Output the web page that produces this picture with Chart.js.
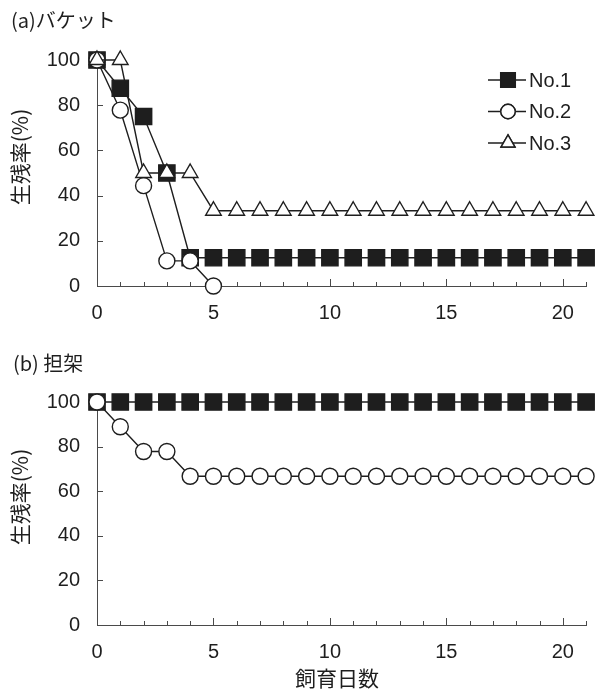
<!DOCTYPE html>
<html>
<head>
<meta charset="utf-8">
<script src="https://cdn.jsdelivr.net/npm/chart.js@4.4.1/dist/chart.umd.min.js"></script>
<style>
  html, body { margin: 0; padding: 0; background: #fff; }
  #wrap { position: relative; width: 599px; height: 689px; }
  canvas { position: absolute; left: 0; }
  #chart-a { top: 0; }
  #chart-b { top: 330px; }
</style>
</head>
<body>
<div id="wrap">
  <canvas id="chart-a" width="599" height="330"></canvas>
  <canvas id="chart-b" width="599" height="359"></canvas>
</div>
<script>
// data
const days = [0, 1, 2, 3, 4, 5, 6, 7, 8, 9, 10, 11, 12, 13, 14, 15, 16, 17, 18, 19, 20, 21];
const yTicks = [0, 20, 40, 60, 80, 100];
const seriesNames = ['No.1', 'No.2', 'No.3'];

// (a) バケット
const bucketNo1 = [100, 87.5, 75, 50, 12.5, 12.5, 12.5, 12.5, 12.5, 12.5, 12.5, 12.5, 12.5, 12.5, 12.5, 12.5, 12.5, 12.5, 12.5, 12.5, 12.5, 12.5];
const bucketNo2 = [100, 77.8, 44.4, 11.1, 11.1, 0];
const bucketNo3 = [100, 100, 50, 50, 50, 33.3, 33.3, 33.3, 33.3, 33.3, 33.3, 33.3, 33.3, 33.3, 33.3, 33.3, 33.3, 33.3, 33.3, 33.3, 33.3, 33.3];

// (b) 担架
const stretcherNo1 = [100, 100, 100, 100, 100, 100, 100, 100, 100, 100, 100, 100, 100, 100, 100, 100, 100, 100, 100, 100, 100, 100];
const stretcherNo2 = [100, 88.9, 77.8, 77.8, 66.7, 66.7, 66.7, 66.7, 66.7, 66.7, 66.7, 66.7, 66.7, 66.7, 66.7, 66.7, 66.7, 66.7, 66.7, 66.7, 66.7, 66.7];

const ink = '#1e1e1e';
const axisColor = '#4a4a4a';
const numFont = 'Arial, "Liberation Sans", sans-serif';
const jpFont = '"Noto Sans CJK JP", "Noto Sans", sans-serif';

// marker looks for each series
const styles = [
  { pointStyle: 'rect', pointRadius: 11.5, pointBackgroundColor: ink, order: 3 },
  { pointStyle: 'circle', pointRadius: 8, pointBackgroundColor: '#fff', order: 2 },
  { pointStyle: 'triangle', pointRadius: 9, pointBackgroundColor: '#fff', order: 1 }
];

function makeDataset(i, values) {
  return Object.assign({
    label: seriesNames[i],
    data: values,
    borderColor: ink,
    borderWidth: 1.4,
    pointBorderColor: ink,
    pointBorderWidth: 1.4,
    pointHoverRadius: 0,
    tension: 0,
    clip: false
  }, styles[i]);
}

// small inward tick marks, like the original figure
const tickMarks = {
  id: 'tickMarks',
  beforeDatasetsDraw(chart) {
    const { ctx, chartArea: a, scales: { x, y } } = chart;
    ctx.save();
    ctx.strokeStyle = axisColor;
    ctx.lineWidth = 1;
    ctx.beginPath();
    days.forEach((d, i) => {
      const px = Math.round(x.getPixelForValue(i)) + 0.5;
      const len = d % 5 === 0 ? 7 : 4;
      ctx.moveTo(px, a.bottom);
      ctx.lineTo(px, a.bottom - len);
    });
    yTicks.forEach(v => {
      const py = Math.round(y.getPixelForValue(v)) + 0.5;
      ctx.moveTo(a.left, py);
      ctx.lineTo(a.left + 6, py);
    });
    ctx.stroke();
    ctx.restore();
  }
};

// panel title and axis titles
const panelText = {
  id: 'panelText',
  afterDraw(chart, args, opts) {
    const ctx = chart.ctx;
    ctx.save();
    ctx.fillStyle = ink;
    ctx.textBaseline = 'middle';
    ctx.textAlign = 'left';
    ctx.font = '20px ' + jpFont;
    ctx.fillText(opts.title, opts.titleX, opts.titleY);

    ctx.save();
    ctx.translate(opts.yTitleX, opts.yTitleY);
    ctx.rotate(-Math.PI / 2);
    ctx.textAlign = 'center';
    ctx.font = '21px ' + jpFont;
    ctx.fillText('生残率(%)', 0, 0);
    ctx.restore();

    if (opts.xTitle) {
      ctx.textAlign = 'center';
      ctx.font = '21px ' + jpFont;
      ctx.fillText(opts.xTitle, opts.xTitleX, opts.xTitleY);
    }
    ctx.restore();
  }
};

// legend drawn inside the plot: line + marker + name
const innerLegend = {
  id: 'innerLegend',
  afterDraw(chart, args, opts) {
    if (!opts.show) return;
    const ctx = chart.ctx;
    ctx.save();
    chart.data.datasets.forEach((ds, i) => {
      const y = opts.top + i * opts.gap;
      ctx.strokeStyle = ink;
      ctx.lineWidth = 1.4;
      ctx.beginPath();
      ctx.moveTo(opts.x1, y);
      ctx.lineTo(opts.x2, y);
      ctx.stroke();
      Chart.helpers.drawPoint(ctx, {
        pointStyle: ds.pointStyle,
        radius: ds.pointRadius * 0.9,
        borderWidth: 1.4,
        rotation: 0
      }, opts.mx, y);
      ctx.fillStyle = ds.pointBackgroundColor;
      ctx.strokeStyle = ink;
      ctx.fill();
      ctx.stroke();
      ctx.fillStyle = ink;
      ctx.font = '20px ' + numFont;
      ctx.textAlign = 'left';
      ctx.textBaseline = 'middle';
      ctx.fillText(ds.label, opts.tx, y + 1);
    });
    ctx.restore();
  }
};

function makeChart(id, datasets, cfg) {
  return new Chart(document.getElementById(id), {
    type: 'line',
    data: { labels: days, datasets: datasets },
    options: {
      responsive: false,
      animation: false,
      events: [],
      layout: { padding: { top: cfg.top, right: 11, bottom: 0, left: 0 } },
      scales: {
        x: {
          type: 'category',
          offset: false,
          grid: { display: false, drawTicks: false },
          border: { display: true, color: axisColor, width: 1 },
          ticks: {
            autoSkip: false,
            maxRotation: 0,
            padding: 15,
            color: ink,
            font: { family: numFont, size: 20 },
            callback: (v, i) => (days[i] % 5 === 0 ? days[i] : null)
          },
          afterFit: s => { s.height = cfg.xHeight; }
        },
        y: {
          min: 0,
          max: 100,
          grid: { display: false, drawTicks: false },
          border: { display: true, color: axisColor, width: 1 },
          ticks: {
            stepSize: 20,
            padding: 17,
            color: ink,
            font: { family: numFont, size: 20 }
          },
          afterFit: s => { s.width = 97; }
        }
      },
      plugins: {
        legend: { display: false },
        tooltip: { enabled: false },
        panelText: cfg.text,
        innerLegend: cfg.legend
      }
    },
    plugins: [tickMarks, panelText, innerLegend]
  });
}

makeChart('chart-a',
  [makeDataset(0, bucketNo1), makeDataset(1, bucketNo2), makeDataset(2, bucketNo3)],
  {
    top: 60,
    xHeight: 44,
    text: { title: '(a)バケット', titleX: 11, titleY: 20, yTitleX: 20, yTitleY: 157 },
    legend: { show: true, x1: 488, x2: 526, mx: 508, tx: 529, top: 80, gap: 31.5 }
  });

makeChart('chart-b',
  [makeDataset(0, stretcherNo1), makeDataset(1, stretcherNo2)],
  {
    top: 72,
    xHeight: 64,
    text: { title: '(b) 担架', titleX: 13, titleY: 33, yTitleX: 20, yTitleY: 167,
            xTitle: '飼育日数', xTitleX: 337, xTitleY: 348 },
    legend: { show: false }
  });
</script>
</body>
</html>
